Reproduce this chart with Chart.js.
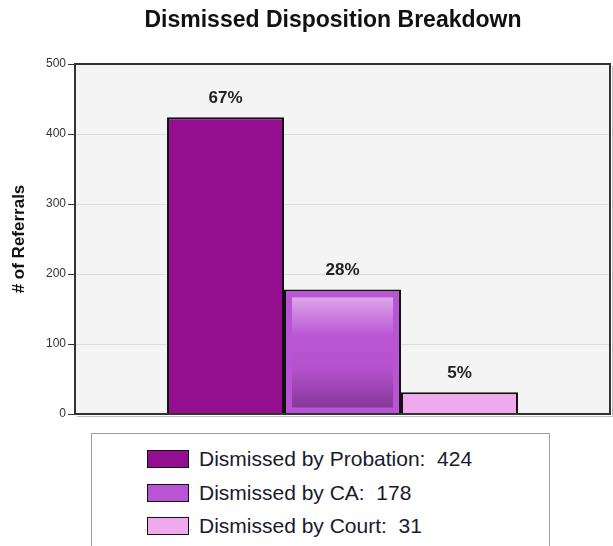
<!DOCTYPE html>
<html>
<head>
<meta charset="utf-8">
<title>Dismissed Disposition Breakdown</title>
<script src="https://cdn.jsdelivr.net/npm/chart.js@4/dist/chart.umd.min.js"></script>
<style>
  body { margin: 0; background: #ffffff; }
  #wrap { position: relative; width: 613px; height: 546px; overflow: hidden; }
  #legend {
    position: absolute; left: 91px; top: 433px; width: 457px; height: 140px;
    border: 1px solid #a0a0a0; background: #ffffff;
    font-family: Arial, "Liberation Sans", sans-serif; font-size: 21px; color: #1a1a2e;
  }
  .item { position: absolute; left: 55px; height: 20px; white-space: pre; }
  .swatch {
    position: absolute; left: 0; top: 0; width: 40px; height: 16px;
    border: 1.5px solid #111;
  }
  .label { position: absolute; left: 52px; top: -3px; line-height: 24px; }
</style>
</head>
<body>
<div id="wrap">
  <canvas id="chart" width="613" height="546"></canvas>
  <div id="legend"></div>
</div>
<script>
const ctx = document.getElementById("chart");
const legendBox = document.getElementById("legend");

// Data
const categories = ["Dismissed"];
const seriesNames = ["Dismissed by Probation", "Dismissed by CA", "Dismissed by Court"];
const seriesValues = [424, 178, 31];
const seriesColors = ["#930f8f", "#b955d4", "#f0a8ee"];
const yTicks = [0, 100, 200, 300, 400, 500];

const total = seriesValues.reduce((a, b) => a + b, 0);

// Grey plot background and dark frame around the chart area
const plotFrame = {
  id: "plotFrame",
  beforeDraw(chart) {
    const { ctx, chartArea: a } = chart;
    ctx.save();
    ctx.fillStyle = "#f4f4f4";
    ctx.fillRect(a.left, a.top, a.right - a.left, a.bottom - a.top);
    ctx.restore();
  },
  afterDraw(chart) {
    const { ctx, chartArea: a } = chart;
    ctx.save();
    // soft shadow on right and bottom
    ctx.strokeStyle = "#bdbdbd";
    ctx.lineWidth = 1;
    ctx.beginPath();
    ctx.moveTo(a.right + 2.5, a.top + 2);
    ctx.lineTo(a.right + 2.5, a.bottom + 2.5);
    ctx.lineTo(a.left + 2, a.bottom + 2.5);
    ctx.stroke();
    ctx.strokeStyle = "#333333";
    ctx.lineWidth = 2;
    ctx.strokeRect(a.left, a.top, a.right - a.left, a.bottom - a.top);
    ctx.restore();
  },
};

// Glossy inner panel on the CA bar, percentage labels above each bar
const barExtras = {
  id: "barExtras",
  afterDatasetsDraw(chart) {
    const { ctx } = chart;
    ctx.save();
    // highlighted bar (second series)
    const hi = chart.getDatasetMeta(1).data[0];
    if (hi) {
      const left = hi.x - hi.width / 2 + 8;
      const right = hi.x + hi.width / 2 - 8;
      const top = hi.y + 8;
      const bottom = hi.base - 6;
      const g = ctx.createLinearGradient(0, top, 0, bottom);
      g.addColorStop(0, "#dda6e9");
      g.addColorStop(0.35, "#ba56d4");
      g.addColorStop(0.65, "#b452cd");
      g.addColorStop(1, "#87379a");
      ctx.fillStyle = g;
      ctx.fillRect(left, top, right - left, bottom - top);
    }
    // percentage labels
    ctx.font = "bold 17px Arial, 'Liberation Sans', sans-serif";
    ctx.fillStyle = "#222222";
    ctx.textAlign = "center";
    ctx.textBaseline = "middle";
    chart.data.datasets.forEach((ds, i) => {
      const bar = chart.getDatasetMeta(i).data[0];
      const pct = Math.round((ds.data[0] / total) * 100) + "%";
      ctx.fillText(pct, bar.x, bar.y - 19);
    });
    ctx.restore();
  },
};

// Chart title, drawn a bit right of the canvas centre like the original
const chartTitle = {
  id: "chartTitle",
  afterDraw(chart) {
    const { ctx } = chart;
    ctx.save();
    ctx.font = "bold 23px Arial, 'Liberation Sans', sans-serif";
    ctx.fillStyle = "#111111";
    ctx.textAlign = "center";
    ctx.textBaseline = "middle";
    ctx.fillText("Dismissed Disposition Breakdown", 333, 21);
    ctx.restore();
  },
};

// Boxed legend under the plot, one entry per line
const htmlLegend = {
  id: "htmlLegend",
  afterUpdate(chart) {
    legendBox.innerHTML = "";
    chart.data.datasets.forEach((ds, i) => {
      const item = document.createElement("div");
      item.className = "item";
      item.style.top = 16 + i * 33.5 + "px";
      const sw = document.createElement("span");
      sw.className = "swatch";
      sw.style.background = ds.backgroundColor;
      const txt = document.createElement("span");
      txt.className = "label";
      txt.textContent = ds.label + ":  " + ds.data[0];
      item.appendChild(sw);
      item.appendChild(txt);
      legendBox.appendChild(item);
    });
  },
};

const myChart = new Chart(ctx, {
  type: "bar",
  plugins: [plotFrame, barExtras, chartTitle, htmlLegend],
  data: {
    labels: categories,
    datasets: seriesNames.map((name, i) => ({
      label: name,
      data: [seriesValues[i]],
      backgroundColor: seriesColors[i],
      borderColor: "#111111",
      borderWidth: 2,
      categoryPercentage: 0.656,
      barPercentage: 1,
    })),
  },
  options: {
    responsive: false,
    animation: false,
    layout: { padding: { top: 64, right: 3, bottom: 132, left: 0 } },
    plugins: {
      legend: { display: false },
      tooltip: { enabled: false },
      title: { display: false },
    },
    scales: {
      x: { display: false },
      y: {
        min: yTicks[0],
        max: yTicks[yTicks.length - 1],
        afterFit(scale) { scale.width = 75; },
        afterBuildTicks(scale) { scale.ticks = yTicks.map((v) => ({ value: v })); },
        ticks: {
          padding: 2,
          color: "#333333",
          font: { family: "Arial, 'Liberation Sans', sans-serif", size: 12 },
        },
        grid: {
          color: "#dcdcdc",
          lineWidth: 1,
          tickColor: "#333333",
          tickLength: 7,
        },
        border: { display: true, color: "#333333", width: 2 },
        title: {
          display: true,
          text: "# of Referrals",
          color: "#111111",
          padding: { top: 9, bottom: 0 },
          font: { family: "Arial, 'Liberation Sans', sans-serif", size: 17, weight: "bold" },
        },
      },
    },
  },
});
</script>
</body>
</html>
